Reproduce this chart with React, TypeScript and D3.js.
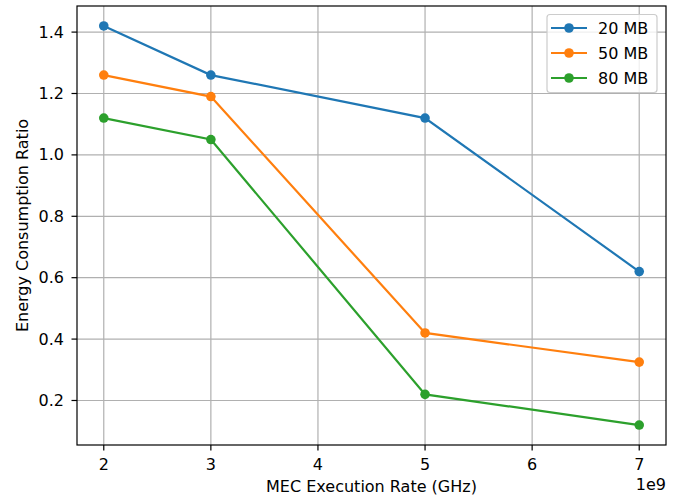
import React from "react";
import * as d3 from "d3";

// x values in Hz (axis shows them scaled by 1e9)
const rates = [2e9, 3e9, 5e9, 7e9];
const series20 = [1.42, 1.26, 1.12, 0.62];
const series50 = [1.26, 1.19, 0.42, 0.325];
const series80 = [1.12, 1.05, 0.22, 0.12];
const seriesNames = ["20 MB", "50 MB", "80 MB"];
const colors = ["#1f77b4", "#ff7f0e", "#2ca02c"];
const xTicks = [2e9, 3e9, 4e9, 5e9, 6e9, 7e9];
const yTicks = [0.2, 0.4, 0.6, 0.8, 1.0, 1.2, 1.4];

const W = 682;
const H = 497;
const m = { left: 77, right: 16, top: 6, bottom: 52 };
const font = "DejaVu Sans, sans-serif";
const fs = 16;

export default function App() {
  const allSeries = [series20, series50, series80];
  const x = d3.scaleLinear().domain([1.75e9, 7.25e9]).range([m.left, W - m.right]);
  const y = d3.scaleLinear().domain([0.055, 1.485]).range([H - m.bottom, m.top]);

  const line = d3
    .line<[number, number]>()
    .x((d) => x(d[0]))
    .y((d) => y(d[1]));

  const x0 = m.left, x1 = W - m.right, y0 = H - m.bottom, y1 = m.top;

  return (
    <svg
      width={W}
      height={H}
      style={{ position: "absolute", left: 0, top: 0, background: "#fff" }}
      fontFamily={font}
    >
      {/* grid */}
      {xTicks.map((t) => (
        <line key={"gx" + t} x1={x(t)} x2={x(t)} y1={y1} y2={y0} stroke="#b0b0b0" strokeWidth={1.2} />
      ))}
      {yTicks.map((t) => (
        <line key={"gy" + t} x1={x0} x2={x1} y1={y(t)} y2={y(t)} stroke="#b0b0b0" strokeWidth={1.2} />
      ))}

      {/* series */}
      {allSeries.map((s, i) => {
        const pts = rates.map((r, j) => [r, s[j]] as [number, number]);
        return (
          <g key={seriesNames[i]}>
            <path d={line(pts) || ""} fill="none" stroke={colors[i]} strokeWidth={2.2} />
            {pts.map((p, j) => (
              <circle key={j} cx={x(p[0])} cy={y(p[1])} r={4.8} fill={colors[i]} />
            ))}
          </g>
        );
      })}

      {/* spines */}
      <rect x={x0} y={y1} width={x1 - x0} height={y0 - y1} fill="none" stroke="#000" strokeWidth={1.2} />

      {/* x ticks */}
      {xTicks.map((t) => (
        <g key={"xt" + t}>
          <line x1={x(t)} x2={x(t)} y1={y0} y2={y0 + 5.5} stroke="#000" strokeWidth={1.2} />
          <text x={x(t)} y={y0 + 25} textAnchor="middle" fontSize={fs} fill="#000">
            {d3.format("d")(t / 1e9)}
          </text>
        </g>
      ))}
      <text x={x1} y={y0 + 45} textAnchor="end" fontSize={fs}>1e9</text>

      {/* y ticks */}
      {yTicks.map((t) => (
        <g key={"yt" + t}>
          <line x1={x0 - 5.5} x2={x0} y1={y(t)} y2={y(t)} stroke="#000" strokeWidth={1.2} />
          <text x={x0 - 13} y={y(t)} dy="0.35em" textAnchor="end" fontSize={fs}>
            {t.toFixed(1)}
          </text>
        </g>
      ))}

      {/* axis labels */}
      <text x={(x0 + x1) / 2} y={y0 + 46.5} textAnchor="middle" fontSize={fs}>
        MEC Execution Rate (GHz)
      </text>
      <text
        transform={`translate(${22},${(y0 + y1) / 2}) rotate(-90)`}
        textAnchor="middle"
        dy="0.35em"
        fontSize={fs}
      >
        Energy Consumption Ratio
      </text>

      {/* legend */}
      <g>
        <rect x={547} y={14.5} width={110} height={78} rx={3} fill="#fff" fillOpacity={0.8} stroke="#cccccc" strokeWidth={1.2} />
        {seriesNames.map((n, i) => {
          const ly = 28 + i * 25;
          return (
            <g key={n}>
              <line x1={551} x2={587} y1={ly} y2={ly} stroke={colors[i]} strokeWidth={2.2} />
              <circle cx={569} cy={ly} r={4.8} fill={colors[i]} />
              <text x={598} y={ly} dy="0.35em" fontSize={fs}>{n}</text>
            </g>
          );
        })}
      </g>
    </svg>
  );
}
